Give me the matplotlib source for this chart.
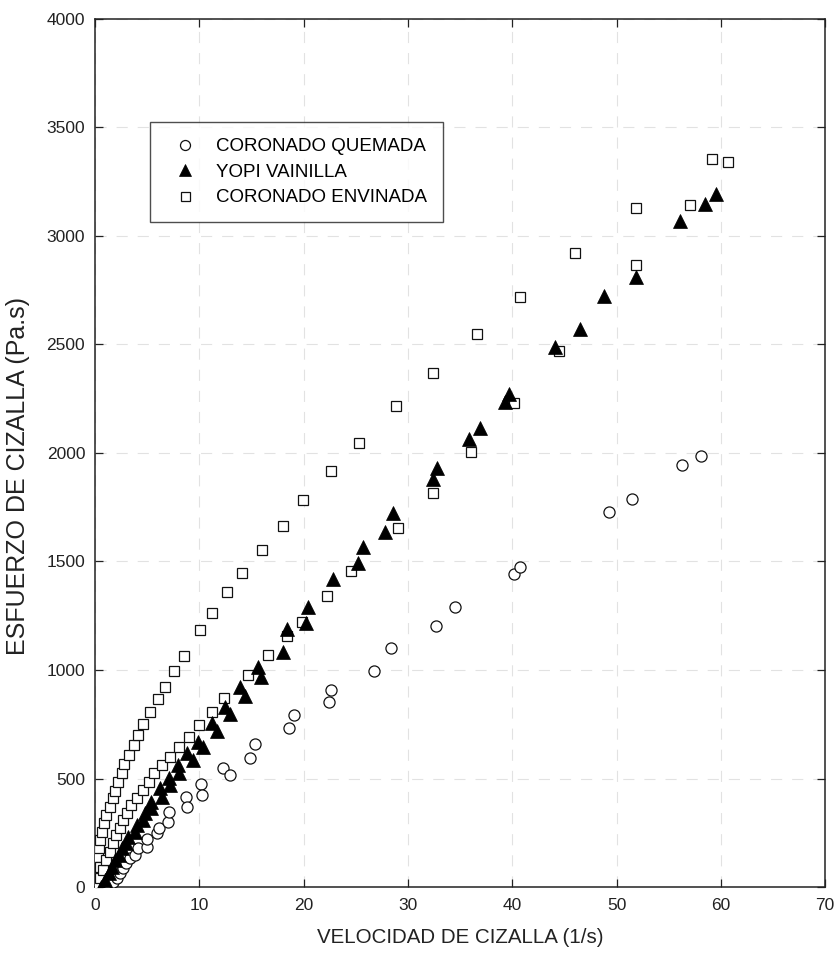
"""Curvas de flujo: esfuerzo de cizalla frente a velocidad de cizalla
para tres muestras (Coronado Quemada, Yopi Vainilla, Coronado Envinada)."""

import matplotlib
matplotlib.use("Agg")
import matplotlib.pyplot as plt

plt.rcParams["font.family"] = ["Liberation Sans", "DejaVu Sans"]

# Coronado Quemada (circulos)
quemada_x = [1.3, 1.75, 2.1, 2.4, 2.7, 3.0, 3.4, 3.8, 4.1, 5.0, 5.0, 5.9, 6.1,
             7.0, 7.1, 8.7, 8.8, 10.2, 10.3, 12.3, 12.9, 14.9, 15.3, 18.6, 19.1,
             22.4, 22.6, 26.7, 28.4, 32.7, 34.5, 40.2, 40.7, 49.3, 51.5, 56.3, 58.1]
quemada_y = [2, 24, 40, 63, 86, 109, 132, 147, 178, 186, 220, 247, 271,
             301, 347, 416, 370, 475, 424, 547, 516, 593, 657, 731, 793,
             854, 908, 995, 1100, 1201, 1289, 1442, 1476, 1730, 1789, 1943, 1986]

# Yopi Vainilla (triangulos rellenos)
yopi_x = [0.6, 1.0, 1.3, 1.6, 1.9, 2.3, 2.6, 3.0, 3.2, 3.8, 4.0, 4.6, 4.8, 5.4,
          5.4, 6.2, 6.4, 7.1, 7.2, 8.0, 8.1, 8.8, 9.4, 9.9, 10.4, 11.2, 11.7,
          12.5, 12.9, 13.9, 14.4, 15.6, 15.9, 18.0, 18.4, 20.2, 20.4, 22.8,
          25.2, 25.7, 27.8, 28.6, 32.4, 32.8, 35.9, 36.9, 39.3, 39.7, 44.1,
          46.5, 48.8, 51.9, 56.1, 58.5, 59.5]
yopi_y = [1, 32, 63, 94, 124, 147, 178, 201, 232, 255, 286, 309, 340, 363,
          393, 455, 416, 501, 470, 562, 524, 616, 585, 670, 647, 757, 720,
          831, 797, 923, 882, 1012, 969, 1083, 1187, 1215, 1292, 1421,
          1492, 1568, 1637, 1722, 1882, 1929, 2065, 2115, 2235, 2272, 2487,
          2573, 2724, 2810, 3068, 3147, 3195]

# Coronado Envinada (cuadrados), rama superior e inferior
envinada_x = [0.05, 0.05, 0.05, 0.15, 0.2, 0.3, 0.4, 0.5, 0.5, 0.7, 0.9, 1.1,
              1.4, 1.7, 1.9, 2.2, 2.6, 2.8, 3.3, 3.7, 4.1, 4.6, 5.3, 6.0, 6.7,
              7.6, 8.5, 10.1, 11.2, 12.7, 14.1, 16.0, 18.0, 19.9, 22.6, 25.3,
              28.9, 32.4, 36.6, 40.7, 46.0, 51.9, 57.0, 59.1,
              0.3, 0.5, 0.8, 1.05, 1.4, 1.7, 2.0, 2.4, 2.7, 3.1, 3.5, 4.0, 4.6,
              5.2, 5.7, 6.4, 7.2, 8.1, 9.0, 10.0, 11.2, 12.4, 14.7, 16.6, 18.4,
              19.8, 22.2, 24.5, 29.0, 32.4, 36.0, 40.2, 44.5, 51.9, 60.7]
envinada_y = [30, 70, 110, 10, 47, 140, 178, 94, 217, 255, 294, 332,
              370, 409, 444, 485, 527, 567, 608, 654, 700, 750, 805, 868, 923,
              997, 1065, 1184, 1261, 1361, 1446, 1555, 1665, 1782, 1916, 2045,
              2217, 2367, 2550, 2719, 2922, 3131, 3141, 3353,
              2, 40, 78, 124, 163, 201, 240, 271, 309, 340, 378, 409, 447,
              485, 524, 562, 601, 647, 693, 747, 805, 870, 977, 1069, 1158,
              1223, 1341, 1456, 1653, 1814, 2006, 2232, 2471, 2866, 3341]

x_ticks = [0, 10, 20, 30, 40, 50, 60, 70]
y_ticks = [0, 500, 1000, 1500, 2000, 2500, 3000, 3500, 4000]

fig = plt.figure(figsize=(8.36, 9.58), dpi=100)
ax = fig.add_axes([0.1136, 0.0741, 0.8735, 0.9061])

ax.plot(quemada_x, quemada_y, linestyle="none", marker="o", ms=8,
        mfc="white", mec="#111111", mew=0.9, label="CORONADO QUEMADA", zorder=3)
ax.plot(yopi_x, yopi_y, linestyle="none", marker="^", ms=9.5,
        mfc="black", mec="black", mew=0.5, label="YOPI VAINILLA", zorder=4)
ax.plot(envinada_x, envinada_y, linestyle="none", marker="s", ms=7.2,
        mfc="white", mec="#111111", mew=0.9, label="CORONADO ENVINADA", zorder=3)

ax.set_xlim(0, 70)
ax.set_ylim(0, 4000)
ax.set_xticks(x_ticks)
ax.set_yticks(y_ticks)
ax.tick_params(direction="in", length=6, width=0.9, labelsize=12.5,
               top=True, right=True, colors="#222222")
ax.tick_params(axis="x", pad=8)
ax.tick_params(axis="y", pad=7)

ax.grid(True, color="#e2e2e2", linestyle=(0, (10, 9)), linewidth=0.8, zorder=0)
ax.set_axisbelow(True)
for sp in ax.spines.values():
    sp.set_linewidth(1.1)
    sp.set_color("#222222")

ax.set_xlabel("VELOCIDAD DE CIZALLA (1/s)", fontsize=14.8, labelpad=11, color="#222222")
ax.set_ylabel("ESFUERZO DE CIZALLA (Pa.s)", fontsize=18, color="#222222")
ax.yaxis.set_label_coords(-0.089, 0.473)

leg = ax.legend(loc="upper left", bbox_to_anchor=(0.075, 0.881), fontsize=13.5,
                frameon=True, fancybox=False, edgecolor="#222222",
                borderpad=0.85, labelspacing=0.45, handletextpad=0.6,
                handlelength=2.1, borderaxespad=0, markerscale=0.9)
leg.get_frame().set_linewidth(1.0)

fig.savefig("out.png", dpi=100)
